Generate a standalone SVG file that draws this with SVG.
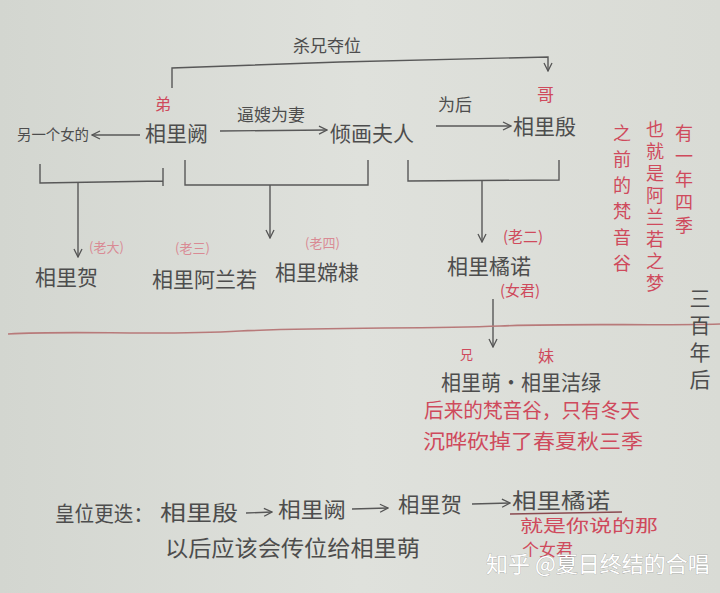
<svg xmlns="http://www.w3.org/2000/svg" width="720" height="593" viewBox="0 0 720 593">
<defs>
<linearGradient id="bg" x1="0" y1="0" x2="1" y2="0">
<stop offset="0" stop-color="#d3d6d0"/>
<stop offset="0.5" stop-color="#dfe1dc"/>
<stop offset="1" stop-color="#d9dbd5"/>
</linearGradient>
<marker id="ah" viewBox="0 0 10 10" refX="9" refY="5" markerWidth="10" markerHeight="10" markerUnits="userSpaceOnUse" orient="auto">
<polyline points="1,1 9,5 1,9" fill="none" stroke="#555" stroke-width="1.3"/>
</marker>
</defs>
<style>
text{font-family:"Noto Sans CJK SC","Noto Sans",sans-serif;}
.n{fill:#4d4d4d;font-size:21px;}
.s{fill:#4d4d4d;font-size:17px;}
.r{fill:#cf4a5c;font-size:20px;}
.rp{fill:#d98a94;font-size:13px;}
.rl{fill:#cf4a5c;font-size:15px;}
.c{fill:none;stroke:#585858;stroke-width:1.4;}
.v{fill:#cf4a5c;font-size:18px;writing-mode:vertical-rl;}
</style>
<rect width="720" height="593" fill="url(#bg)"/>

<g id="connectors">
<path class="c" d="M172,88 V68 L340,62 L548,57 V71" marker-end="url(#ah)"/>
<path class="c" d="M140,135 H92" marker-end="url(#ah)"/>
<path class="c" d="M220,131 L327,130" marker-end="url(#ah)"/>
<path class="c" d="M436,126 L511,126" marker-end="url(#ah)"/>
<path class="c" d="M40,164 V183 L163,181 M163,168 V186"/>
<path class="c" d="M78,183 V257" marker-end="url(#ah)"/>
<path class="c" d="M185,160 V185 H368 V160"/>
<path class="c" d="M270,185 V238" marker-end="url(#ah)"/>
<path class="c" d="M408,160 V181 L559,180 V160"/>
<path class="c" d="M482,181 V242" marker-end="url(#ah)"/>
<path class="c" d="M493,299 V347" marker-end="url(#ah)"/>
<path d="M8,334 C80,330 150,336 240,331 C330,327 420,329 500,326 C580,323 650,326 720,324" fill="none" stroke="#b87a7a" stroke-width="1.6"/>
</g>

<g id="top-label"><text class="s" x="293" y="52">杀兄夺位</text></g>
<g id="node-queli"><text class="r" x="155" y="110" style="font-size:16px">弟</text><text class="n" x="145" y="141">相里阙</text></g>
<g id="node-other"><text class="s" x="17" y="140" style="font-size:15px" textLength="72" lengthAdjust="spacingAndGlyphs">另一个女的</text></g>
<g id="label-bisao"><text class="s" x="237" y="121">逼嫂为妻</text></g>
<g id="node-qinghua"><text class="n" x="330" y="141">倾画夫人</text></g>
<g id="label-weihou"><text class="s" x="438" y="111">为后</text></g>
<g id="node-yin"><text class="r" x="537" y="101" style="font-size:17px">哥</text><text class="n" x="513" y="134">相里殷</text></g>

<g id="node-he"><text class="rp" x="89" y="252">(老大)</text><text class="n" x="35" y="285">相里贺</text></g>
<g id="node-alanruo"><text class="rp" x="175" y="253">(老三)</text><text class="n" x="152" y="287">相里阿兰若</text></g>
<g id="node-changdi"><text class="rp" x="305" y="248">(老四)</text><text class="n" x="275" y="280">相里嫦棣</text></g>
<g id="node-junuo"><text class="rl" x="503" y="242">(老二)</text><text class="n" x="447" y="274">相里橘诺</text><text class="rl" x="500" y="296">(女君)</text></g>

<g id="note-vertical">
<text class="v" x="684" y="124" style="letter-spacing:5px">有一年四季</text>
<text class="v" x="655" y="120" style="letter-spacing:4px">也就是阿兰若之梦</text>
<text class="v" x="622" y="124" style="letter-spacing:8px">之前的梵音谷</text>
</g>

<g id="label-300">
<text class="n" x="700" y="288" style="writing-mode:vertical-rl;letter-spacing:6px">三百年后</text>
</g>

<g id="node-meng"><text class="r" x="460" y="359" style="font-size:13px">兄</text><text class="r" x="538" y="362" style="font-size:16px">妹</text><text class="n" x="441" y="390" textLength="160" lengthAdjust="spacingAndGlyphs">相里萌·相里洁绿</text></g>
<g id="note-later"><text class="r" x="424" y="418" textLength="216" lengthAdjust="spacingAndGlyphs">后来的梵音谷，只有冬天</text><text class="r" x="423" y="449" textLength="220" lengthAdjust="spacingAndGlyphs">沉晔砍掉了春夏秋三季</text></g>

<g id="note-succession">
<text class="n" x="55" y="521" textLength="98" lengthAdjust="spacingAndGlyphs">皇位更迭：</text>
<text class="n" x="160" y="520" textLength="78" lengthAdjust="spacingAndGlyphs">相里殷</text>
<path class="c" d="M246,513 L272,512" marker-end="url(#ah)"/>
<text class="n" x="278" y="517" textLength="68" lengthAdjust="spacingAndGlyphs">相里阙</text>
<path class="c" d="M352,509 L388,508" marker-end="url(#ah)"/>
<text class="n" x="398" y="512" textLength="64" lengthAdjust="spacingAndGlyphs">相里贺</text>
<path class="c" d="M472,504 L510,503" marker-end="url(#ah)"/>
<text class="n" x="512" y="508" textLength="98" lengthAdjust="spacingAndGlyphs">相里橘诺</text>
<path d="M510,514 L622,512" fill="none" stroke="#8a4a50" stroke-width="1.4"/>
<text class="rl" x="520" y="532" style="font-size:17px" textLength="138" lengthAdjust="spacingAndGlyphs">就是你说的那</text>
<text class="rl" x="522" y="556" style="font-size:17px">个女君</text>
<text class="n" x="165" y="556" style="font-size:22px" textLength="255" lengthAdjust="spacingAndGlyphs">以后应该会传位给相里萌</text>
</g>

<g id="watermark"><text x="486" y="572" style="font-size:22px;fill:#ffffff;stroke:#888;stroke-width:0.4;paint-order:stroke">知乎 @夏日终结的合唱</text></g>
</svg>
